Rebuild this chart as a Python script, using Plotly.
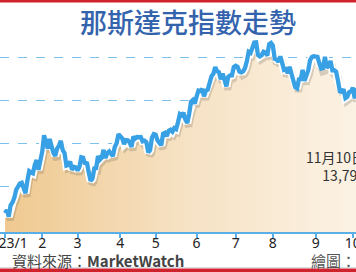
import plotly.graph_objects as go

# Nasdaq Composite daily closes, 2023 (trading days)
jan = [10386.98, 10458.76, 10305.24, 10569.29, 10635.65, 10742.63, 10931.67, 11001.10, 11079.16, 11095.11,
       10957.01, 10852.27, 11140.43, 11364.41, 11334.27, 11313.36, 11512.41, 11621.71, 11393.81, 11584.55]
feb = [11816.32, 12200.82, 12006.95, 11887.45, 12113.79, 11910.52, 11789.58, 11718.12, 11891.79, 11960.15,
       12070.59, 11855.83, 11787.27, 11492.30, 11507.07, 11590.40, 11394.94, 11466.98, 11455.54]
mar = [11379.48, 11462.98, 11689.01, 11675.74, 11530.33, 11576.00, 11338.36, 11138.89, 11188.84, 11428.15,
       11434.05, 11717.28, 11630.51, 11675.54, 11860.11, 11669.96, 11787.40, 11823.96, 11768.84, 11716.08,
       11926.24, 12013.47, 12221.91]
apr = [12189.45, 12126.33, 11996.86, 12087.96, 12084.36, 12031.88, 11929.34, 12166.27, 12123.47, 12157.72,
       12153.41, 12157.23, 12059.56, 12072.46, 12037.20, 11799.16, 11854.35, 12142.24, 12226.58]
may = [12212.60, 12080.51, 12025.33, 11966.40, 12235.41, 12256.92, 12179.55, 12306.44, 12328.51, 12284.74,
       12365.21, 12343.05, 12500.57, 12688.84, 12657.90, 12720.78, 12560.25, 12484.16, 12698.09, 12975.69,
       13017.43, 12935.29]
jun = [13100.98, 13240.77, 13229.43, 13276.42, 13104.90, 13238.52, 13259.14, 13461.92, 13573.32, 13626.48,
       13782.82, 13689.57, 13667.29, 13502.20, 13630.61, 13492.52, 13335.78, 13555.67, 13591.75, 13591.33,
       13787.92]
jul = [13816.77, 13791.65, 13679.04, 13660.72, 13685.48, 13760.70, 13918.96, 14138.57, 14113.70, 14244.95,
       14353.64, 14358.02, 14063.31, 14032.81, 14058.87, 14144.56, 14127.28, 14050.11, 14316.66, 14346.02]
aug = [14283.91, 13973.45, 13959.72, 13909.24, 14034.98, 13884.32, 13722.02, 13737.99, 13644.85, 13788.33,
       13631.05, 13474.63, 13316.93, 13290.78, 13497.59, 13505.87, 13721.03, 13463.97, 13590.65, 13705.13,
       13943.76, 14019.31, 14034.97]
sep = [14031.81, 14020.95, 13872.47, 13748.83, 13761.53, 14020.46, 13773.61, 13813.59, 13926.05, 13708.33,
       13710.24, 13678.19, 13469.13, 13223.98, 13211.81, 13271.32, 13063.61, 13092.85, 13201.28, 13219.32]
oct_ = [13307.77, 13059.47, 13236.01, 13219.83, 13431.34, 13484.24, 13562.84, 13659.68, 13574.22, 13407.23,
        13567.98, 13533.75, 13314.30, 13186.18, 12983.81, 13018.33, 13139.88, 12821.22, 12595.61, 12643.01,
        12789.48, 12851.24]
nov = [13061.47, 13294.19, 13478.28, 13518.78, 13639.86, 13650.41, 13521.45, 13798.11]

months = [jan, feb, mar, apr, may, jun, jul, aug, sep, oct_, nov]
tick_labels = ["2023/1", "2", "3", "4", "5", "6", "7", "8", "9", "10", "11"]

title_text = "那斯達克指數走勢"
source_text = "資料來源：<b>MarketWatch</b>"
credit_text = "繪圖：王"
last_label = "11月10日<br>13,798"
grid_vals = [11000, 12000, 13000, 14000]

values = [v for m in months for v in m]
xs = list(range(len(values)))
tick_vals = []
pos = 0
for m in months:
    tick_vals.append(pos)
    pos += len(m)

W, H = 356, 272
MT, MB = 15, 40
PH = H - MT - MB


def py(ypix):
    return (H - MB - ypix) / PH


def pxx(xpix):
    return xpix / W


fig = go.Figure()
fig.add_trace(go.Scatter(
    x=xs, y=values, mode="none", fill="tozeroy",
    fillgradient=dict(type="horizontal",
                      colorscale=[[0, "#efc990"], [0.45, "#f6e2c4"], [0.9, "#fcf3e6"], [1, "#fdf6ec"]]),
    hoverinfo="skip", showlegend=False))
fig.add_trace(go.Scatter(
    x=[x + 0.8 for x in xs], y=[v - 75 for v in values], mode="lines",
    line=dict(color="rgba(90,80,70,0.22)", width=7), hoverinfo="skip", showlegend=False))
fig.add_trace(go.Scatter(
    x=xs, y=values, mode="lines",
    line=dict(color="white", width=8), hoverinfo="skip", showlegend=False))
fig.add_trace(go.Scatter(
    x=xs, y=values, mode="lines",
    line=dict(color="#38a0e4", width=4.3), hoverinfo="skip", showlegend=False))

fig.update_layout(
    width=W, height=H,
    margin=dict(l=0, r=0, t=MT, b=MB, autoexpand=False),
    paper_bgcolor="white", plot_bgcolor="white",
    showlegend=False,
    font=dict(family="Noto Sans CJK TC, Noto Sans, sans-serif", color="#222"),
    xaxis=dict(range=[-2.7, 188.7], tickvals=tick_vals, ticktext=tick_labels,
               automargin=False,
               showgrid=False, zeroline=False, showline=True, linecolor="#5aaee6", linewidth=1.5,
               ticks="outside", ticklen=4, tickcolor="#5aaee6", tickwidth=1.5,
               ticklabelstandoff=-7, ticklabeloverflow="allow",
               tickfont=dict(size=14, color="#222", family="Noto Sans, sans-serif")),
    yaxis=dict(range=[9950, 14996], tickvals=grid_vals, showticklabels=False,
               automargin=False,
               showgrid=True, gridcolor="#7cc0ec", griddash="dash", gridwidth=1,
               zeroline=False, showline=False),
)
fig.update_xaxes(layer="above traces")
fig.update_yaxes(layer="below traces")

ann = [
    dict(text=title_text, x=pxx(188), y=py(21), xref="paper", yref="paper",
         xanchor="center", yanchor="middle", showarrow=False,
         font=dict(size=27, color="#3463ad", family="Noto Sans CJK TC", weight=500)),
    dict(text=last_label, x=pxx(367), y=py(166), xref="paper", yref="paper",
         xanchor="right", yanchor="middle", align="right", showarrow=False,
         font=dict(size=14, color="#333", family="Noto Sans CJK TC")),
    dict(text=source_text, x=pxx(10), y=py(260), xref="paper", yref="paper",
         xanchor="left", yanchor="middle", showarrow=False,
         font=dict(size=15, color="#444", family="Noto Sans CJK TC")),
    dict(text=credit_text, x=pxx(309), y=py(260), xref="paper", yref="paper",
         xanchor="left", yanchor="middle", showarrow=False,
         font=dict(size=15, color="#555", family="Noto Sans CJK TC")),
]
fig.update_layout(annotations=ann)

fig.add_shape(type="rect", xref="paper", yref="paper", x0=0, x1=1, y0=py(2.5), y1=py(0),
              fillcolor="#d0222c", line=dict(width=0), layer="above")
fig.add_shape(type="rect", xref="paper", yref="paper", x0=0, x1=1, y0=py(272), y1=py(268.5),
              fillcolor="#d0222c", line=dict(width=0), layer="above")
fig.add_shape(type="line", xref="paper", yref="paper", x0=0, x1=1, y0=py(267.5), y1=py(267.5),
              line=dict(color="#d8dde8", width=1), layer="above")

fig.write_html("out.html")
